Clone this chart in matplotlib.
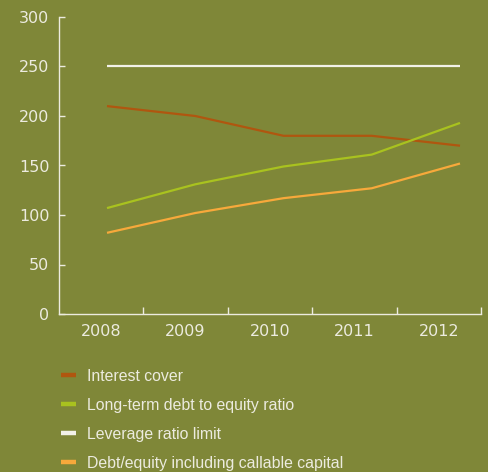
import matplotlib
matplotlib.use("Agg")
import matplotlib.pyplot as plt
from matplotlib.lines import Line2D
import numpy as np

years = [2008, 2009, 2010, 2011, 2012]
interest_cover = [210, 200, 180, 180, 170]
lt_debt_equity = [107, 131, 149, 161, 193]
leverage_limit = [250, 250, 250, 250, 250]
debt_equity_callable = [82, 102, 117, 127, 152]

series_labels = [
    "Interest cover",
    "Long-term debt to equity ratio",
    "Leverage ratio limit",
    "Debt/equity including callable capital",
]
y_ticks = [0, 50, 100, 150, 200, 250, 300]

BG = "#7f8738"
FG = "#ecebdf"
colors = ["#b0560f", "#a9c21f", "#f2f1e8", "#f7a93b"]

fig = plt.figure(figsize=(4.88, 4.72), dpi=100, facecolor=BG)
ax = fig.add_axes([59 / 488, 158 / 472, 422 / 488, 297 / 472], facecolor=BG)

for vals, c in zip([interest_cover, lt_debt_equity, leverage_limit, debt_equity_callable], colors):
    ax.plot(years, vals, color=c, lw=1.6, solid_capstyle="butt")

# x range: year points sit inside five equal category bands
x0, x1 = years[0] - 0.544, years[-1] + 0.238
ax.set_xlim(x0, x1)
ax.set_ylim(0, 300)

edges = np.linspace(x0, x1, len(years) + 1)
centers = (edges[:-1] + edges[1:]) / 2
ax.set_xticks(edges[1:])
ax.set_xticklabels([])
ax.set_xticks(centers, minor=True)
ax.set_xticklabels([str(y) for y in years], minor=True)
ax.tick_params(axis="x", which="major", direction="in", length=5, width=1, color=FG)
ax.tick_params(axis="x", which="minor", length=0, pad=7, labelsize=11.5, labelcolor=FG)

ax.set_yticks(y_ticks)
ax.tick_params(axis="y", direction="in", length=4, width=1, color=FG, pad=7,
               labelsize=11.5, labelcolor=FG)

for side in ["top", "right"]:
    ax.spines[side].set_visible(False)
for side in ["left", "bottom"]:
    ax.spines[side].set_color(FG)
    ax.spines[side].set_linewidth(1)

handles = [Line2D([0], [0], color=c, lw=3.2, solid_capstyle="butt") for c in colors]
fig.legend(handles, series_labels, loc="upper left", bbox_to_anchor=(61 / 488, 1 - 369 / 472),
           frameon=False, borderpad=0, borderaxespad=0,
           handlelength=0.96, handletextpad=0.7, labelspacing=0.88,
           prop={"family": "Liberation Sans", "size": 11.4}, labelcolor=FG)

fig.savefig("out.png", dpi=100, facecolor=BG)
